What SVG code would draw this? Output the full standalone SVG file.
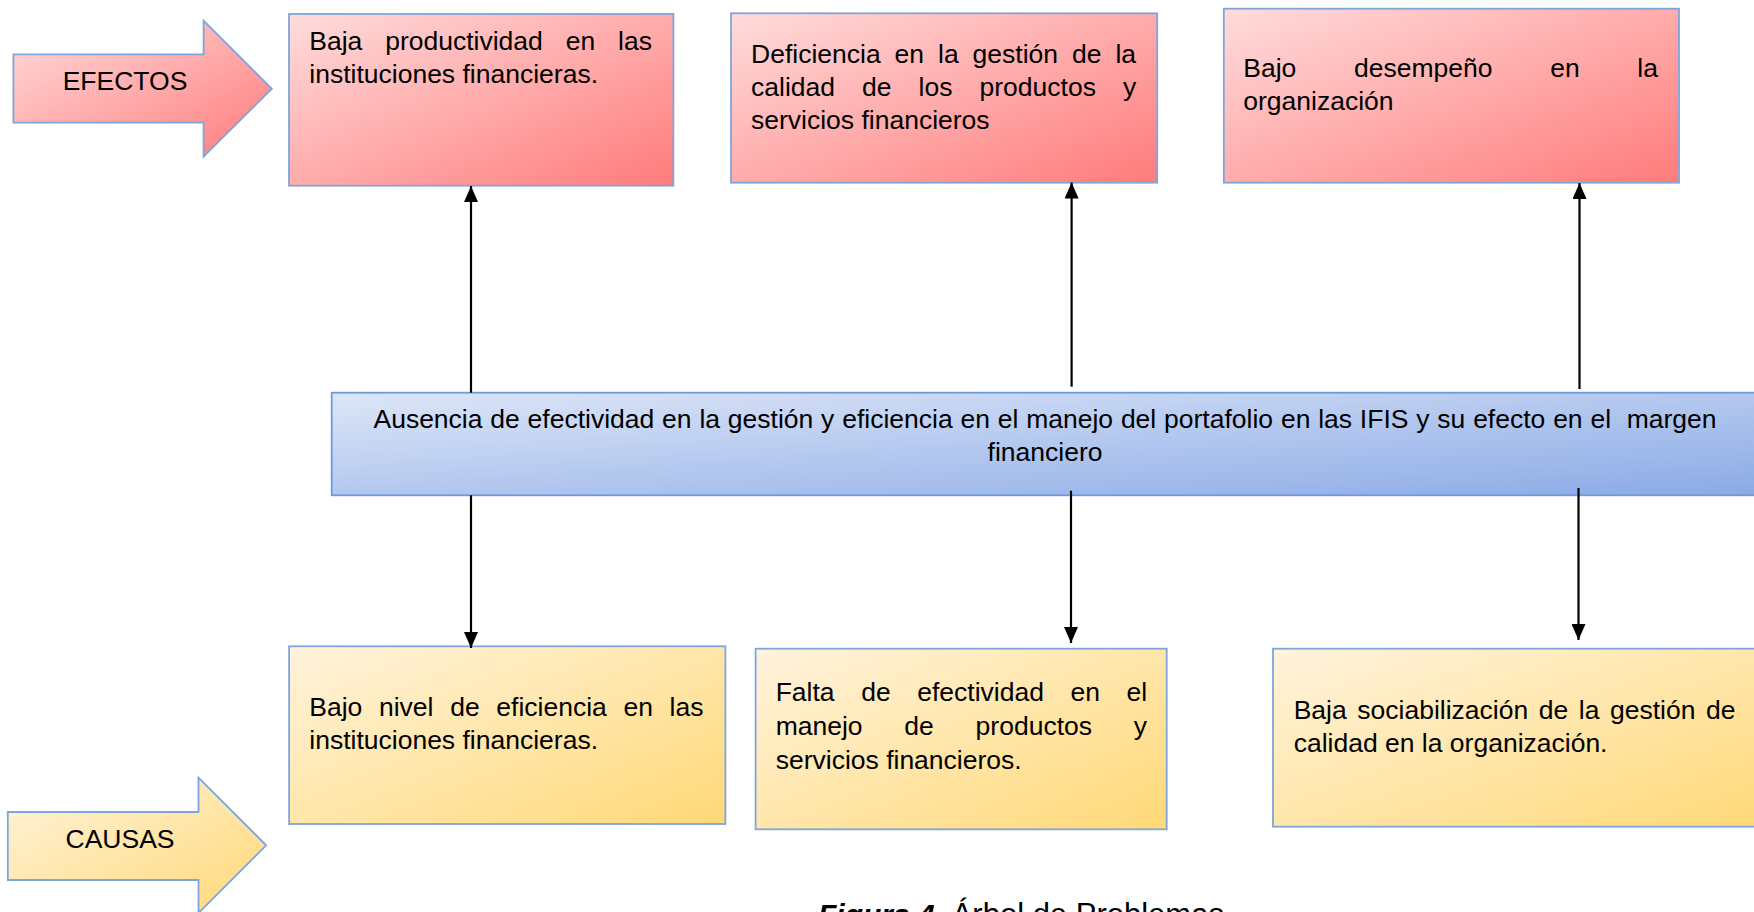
<svg xmlns="http://www.w3.org/2000/svg" width="1754" height="912" viewBox="0 0 1754 912">
<defs>
<linearGradient id="gRed" x1="0" y1="0" x2="1" y2="1">
<stop offset="0" stop-color="#ffdcdc"/><stop offset="1" stop-color="#ff7b7b"/>
</linearGradient>
<linearGradient id="gYel" x1="0" y1="0" x2="1" y2="1">
<stop offset="0" stop-color="#fff3dd"/><stop offset="1" stop-color="#ffd977"/>
</linearGradient>
<linearGradient id="gBlue" x1="0" y1="0" x2="1" y2="1">
<stop offset="0" stop-color="#dde6f8"/><stop offset="1" stop-color="#8aaae6"/>
</linearGradient>
<marker id="ah" markerUnits="userSpaceOnUse" markerWidth="16" markerHeight="14" refX="16" refY="7" orient="auto">
<path d="M0,0 L16,7 L0,14 z" fill="#000"/>
</marker>
<style>
.t{font-family:"Liberation Sans",Arial,sans-serif;font-size:26.5px;fill:#000;}
.red{fill:url(#gRed);stroke:#7ea5dc;stroke-width:1.8;}
.yel{fill:url(#gYel);stroke:#7ea5dc;stroke-width:1.8;}
.blue{fill:url(#gBlue);stroke:#6f9ad8;stroke-width:1.8;}
.c{stroke:#000;stroke-width:2.2;fill:none;marker-end:url(#ah);}
</style>
</defs>
<g id="efectos">
<polygon class="red" points="13.4,54.3 203.6,54.3 203.6,20.7 271.8,88.7 203.6,156.7 203.6,122.7 13.4,122.7"/>
<text class="t" x="125" y="90" text-anchor="middle">EFECTOS</text>
</g>
<g id="causas">
<polygon class="yel" points="7.8,812 198.5,812 198.5,777.7 266.2,845.3 198.5,913 198.5,880 7.8,880"/>
<text class="t" x="120" y="848" text-anchor="middle">CAUSAS</text>
</g>
<g id="efecto1">
<rect class="red" x="289" y="14" width="384.4" height="171.7"/>
<text class="t" x="309.3" y="50" word-spacing="15.5">Baja productividad en las</text>
<text class="t" x="309.3" y="83">instituciones financieras.</text>
</g>
<g id="efecto2">
<rect class="red" x="731" y="13.3" width="426.2" height="169.4"/>
<text class="t" x="751" y="63" word-spacing="6.6">Deficiencia en la gestión de la</text>
<text class="t" x="751" y="96" word-spacing="19.7">calidad de los productos y</text>
<text class="t" x="751" y="129">servicios financieros</text>
</g>
<g id="efecto3">
<rect class="red" x="1223.8" y="8.7" width="455.2" height="174"/>
<text class="t" x="1243.3" y="77" word-spacing="50.3">Bajo desempeño en la</text>
<text class="t" x="1243.3" y="110">organización</text>
</g>
<g id="problema">
<rect class="blue" x="331.7" y="392.7" width="1430" height="102.6"/>
<text class="t" x="1045" y="428" text-anchor="middle" word-spacing="0.45" style="white-space:pre">Ausencia de efectividad en la gestión y eficiencia en el manejo del portafolio en las IFIS y su efecto en el  margen</text>
<text class="t" x="1045" y="461" text-anchor="middle">financiero</text>
</g>
<g id="causa1">
<rect class="yel" x="289.1" y="646.3" width="436.3" height="177.7"/>
<text class="t" x="309.3" y="716" word-spacing="9.3">Bajo nivel de eficiencia en las</text>
<text class="t" x="309.3" y="749">instituciones financieras.</text>
</g>
<g id="causa2">
<rect class="yel" x="755.6" y="648.7" width="411.1" height="180.6"/>
<text class="t" x="775.7" y="701" word-spacing="19.2">Falta de efectividad en el</text>
<text class="t" x="775.7" y="735" word-spacing="34.4">manejo de productos y</text>
<text class="t" x="775.7" y="769">servicios financieros.</text>
</g>
<g id="causa3">
<rect class="yel" x="1273" y="648.7" width="500" height="178"/>
<text class="t" x="1293.7" y="719" word-spacing="3.2">Baja sociabilización de la gestión de</text>
<text class="t" x="1293.7" y="752">calidad en la organización.</text>
</g>
<g id="connectors">
<line class="c" x1="471" y1="392.7" x2="471" y2="186"/>
<line class="c" x1="1071.6" y1="386.7" x2="1071.6" y2="182.5"/>
<line class="c" x1="1579.5" y1="389" x2="1579.5" y2="183"/>
<line class="c" x1="471" y1="495.3" x2="471" y2="648"/>
<line class="c" x1="1071" y1="490.7" x2="1071" y2="643"/>
<line class="c" x1="1578.5" y1="488" x2="1578.5" y2="640"/>
</g>
<g id="caption">
<text class="t" x="818" y="925" style="white-space:pre"><tspan font-weight="bold" font-style="italic" style="font-size:30px">Figura 4.</tspan><tspan style="font-size:31px"> Árbol de Problemas</tspan></text>
</g>
</svg>
